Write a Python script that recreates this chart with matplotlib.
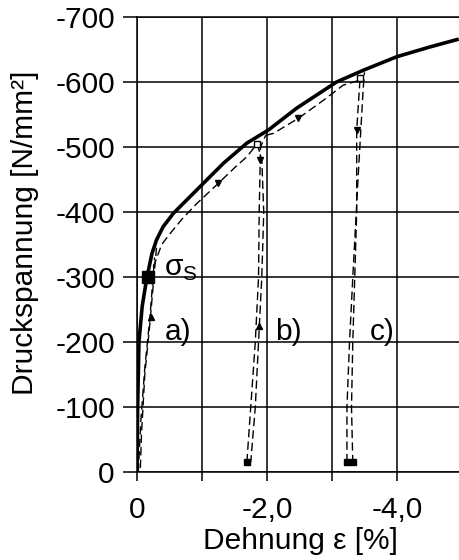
import matplotlib
matplotlib.use("Agg")
import matplotlib.pyplot as plt

plt.rcParams['font.family'] = ['Liberation Sans', 'DejaVu Sans']

# main (monotonic) stress-strain curve
strain_main = [0, -0.01, -0.03, -0.08, -0.15, -0.23, -0.30, -0.40, -0.56, -0.66, -0.97, -1.33,
               -1.69, -2.02, -2.46, -3.07, -3.48, -4.0, -4.51, -4.95]
stress_main = [0, -100, -200, -255, -298, -336, -357, -377, -398, -408, -439, -475,
               -506, -526, -560, -600, -618, -639, -654, -666]

# dashed cyclic path (loading along curve)
strain_cyc1 = [-0.25, -0.38, -0.51, -0.70, -0.92, -1.25, -1.50, -1.69, -1.85]
stress_cyc1 = [-315, -350, -367, -390, -413, -444, -468, -485, -505]
strain_cyc2 = [-1.98, -2.10, -2.48, -2.87, -3.17, -3.43]
stress_cyc2 = [-518, -521, -544, -572, -595, -603]

# loop a)
strain_a_down = [-0.30, -0.26, -0.20, -0.12, -0.07, -0.05]
stress_a_down = [-345, -300, -230, -150, -60, 0]
strain_a_up = [-0.02, -0.06, -0.12, -0.20, -0.24, -0.27]
stress_a_up = [0, -80, -160, -239, -290, -330]

# loop b)
strain_b_down = [-1.85, -1.92, -1.95, -1.92, -1.87, -1.82, -1.75]
stress_b_down = [-505, -480, -400, -300, -200, -100, -15]
strain_b_up = [-1.69, -1.75, -1.82, -1.87, -1.88, -1.90, -1.98]
stress_b_up = [-15, -100, -200, -300, -400, -500, -518]

# loop c)
strain_c_down = [-3.43, -3.38, -3.38, -3.35, -3.32, -3.30, -3.32]
stress_c_down = [-603, -526, -400, -300, -200, -100, -15]
strain_c_up = [-3.23, -3.23, -3.27, -3.32, -3.40, -3.48, -3.50]
stress_c_up = [-15, -100, -200, -300, -450, -590, -615]

# arrow markers
arrow_up_x = [-0.22, -1.87]
arrow_up_y = [-239, -224]
arrow_down_x = [-1.25, -1.90, -2.48, -3.38]
arrow_down_y = [-444, -480, -544, -526]
bottom_x = [-1.69, -3.23, -3.32]
bottom_y = [-16, -16, -16]
top_x = [-1.85, -3.43]
top_y = [-505, -606]

sigma_s = (-0.17, -300)

xticks = [0, -1, -2, -3, -4]
xticklabels = ['0', '', '-2,0', '', '-4,0']
yticks = [0, -100, -200, -300, -400, -500, -600, -700]
yticklabels = ['0', '-100', '-200', '-300', '-400', '-500', '-600', '-700']

FS = 21.5

fig = plt.figure(figsize=(4.59, 5.6), dpi=100)
ax = fig.add_axes([137/459, 88/560, 1 - 137/459, 455/560])

ax.set_xlim(0, -4.954)
ax.set_ylim(0, -700)

ax.set_xticks(xticks)
ax.set_xticklabels(xticklabels)
ax.set_yticks(yticks)
ax.set_yticklabels(yticklabels)
ax.tick_params(axis='x', length=6.5, width=1.1, pad=11, labelsize=FS, colors='black')
ax.tick_params(axis='y', length=10, width=1.1, pad=6, labelsize=FS, colors='black')
ax.grid(True, color='black', linewidth=1.1)
for s in ['left', 'bottom', 'top']:
    ax.spines[s].set_linewidth(1.1)
ax.spines['right'].set_visible(False)

dash = dict(color='black', linewidth=1.0, linestyle=(0, (6, 3)))
ax.plot(strain_cyc1, stress_cyc1, **dash)
ax.plot(strain_cyc2, stress_cyc2, **dash)
ax.plot(strain_a_down, stress_a_down, **dash)
ax.plot(strain_a_up, stress_a_up, **dash)
ax.plot(strain_b_down, stress_b_down, **dash)
ax.plot(strain_b_up, stress_b_up, **dash)
ax.plot(strain_c_down, stress_c_down, **dash)
ax.plot(strain_c_up, stress_c_up, **dash)

ax.plot(strain_main, stress_main, color='black', linewidth=2.6, solid_capstyle='butt',
        solid_joinstyle='round', zorder=5)

ax.plot(arrow_up_x, arrow_up_y, linestyle='none', marker='^', markersize=5, color='black', zorder=6)
ax.plot(arrow_down_x, arrow_down_y, linestyle='none', marker='v', markersize=5, color='black', zorder=6)
ax.plot(bottom_x, bottom_y, linestyle='none', marker='s', markersize=4, color='black', zorder=6)
ax.plot(top_x, top_y, linestyle='none', marker='s', markersize=4, markerfacecolor='white',
        markeredgecolor='black', markeredgewidth=1.0, zorder=6)
ax.plot([sigma_s[0]], [sigma_s[1]], linestyle='none', marker='s', markersize=9, color='black', zorder=7)

ax.text(-0.43, -303, 'σ', fontsize=FS, ha='left', va='baseline')
ax.text(-0.70, -295, 'S', fontsize=15, ha='left', va='baseline')
ax.text(-0.43, -203, 'a)', fontsize=FS, ha='left', va='baseline')
ax.text(-2.12, -203, 'b)', fontsize=FS, ha='left', va='baseline')
ax.text(-3.58, -203, 'c)', fontsize=FS, ha='left', va='baseline')

fig.text(25/459, 1 - 233/560, 'Druckspannung [N/mm²]', rotation=90, fontsize=FS,
         ha='center', va='center')
fig.text(300/459, 1 - 541/560, 'Dehnung ε [%]', fontsize=FS, ha='center', va='center')

fig.savefig('out.png', dpi=100)
